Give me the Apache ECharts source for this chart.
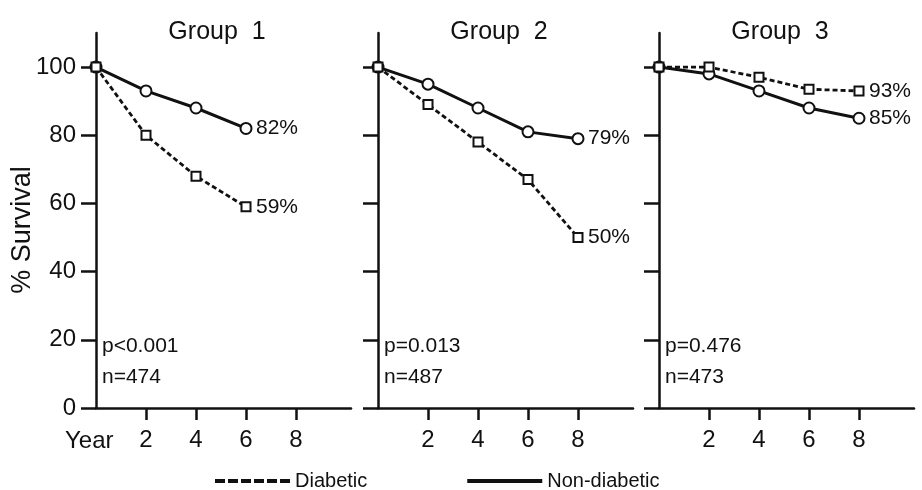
<!DOCTYPE html>
<html><head><meta charset="utf-8">
<script src="https://cdn.jsdelivr.net/npm/echarts@6/dist/echarts.min.js"></script>
<style>html,body{margin:0;padding:0;background:#fff}#c{width:922px;height:490px}</style>
</head><body><div id="c"></div>
<script>
// ---- data ----
const years = [0, 2, 4, 6, 8];
const groupTitles = ['Group  1', 'Group  2', 'Group  3'];
const diabetic1 = [100, 80, 68, 59];
const nonDiabetic1 = [100, 93, 88, 82];
const diabetic2 = [100, 89, 78, 67, 50];
const nonDiabetic2 = [100, 95, 88, 81, 79];
const diabetic3 = [100, 100, 97, 93.5, 93];
const nonDiabetic3 = [100, 98, 93, 88, 85];
const pValues = ['p<0.001', 'p=0.013', 'p=0.476'];
const nValues = ['n=474', 'n=487', 'n=473'];
const yTicks = [0, 20, 40, 60, 80, 100];
const xTicks = [2, 4, 6, 8];
const seriesNames = ['Diabetic', 'Non-diabetic'];

// ---- layout / style ----
const FONT = '"Liberation Sans", Arial, Helvetica, sans-serif';
const INK = '#111';
const gridLefts = [96, 378, 659];
const gridW = 255, gridTop = 33, gridH = 375;
const diab = [diabetic1, diabetic2, diabetic3];
const nonDiab = [nonDiabetic1, nonDiabetic2, nonDiabetic3];
const toPts = arr => arr.map((v, i) => [years[i], v]);

const grids = [], xAxes = [], yAxes = [], series = [], graphics = [];
for (let g = 0; g < 3; g++) {
  grids.push({ left: gridLefts[g], top: gridTop, width: gridW, height: gridH, containLabel: false });
  xAxes.push({
    type: 'value', gridIndex: g, min: 0, max: 10.2,
    axisLine: { show: true, lineStyle: { color: INK, width: 2.5 } },
    axisTick: { show: true, customValues: xTicks, length: 12, lineStyle: { color: INK, width: 2.5 } },
    axisLabel: { show: true, customValues: xTicks, fontSize: 24, margin: 20, color: INK, fontFamily: FONT },
    splitLine: { show: false }
  });
  yAxes.push({
    type: 'value', gridIndex: g, min: 0, max: 110,
    axisLine: { show: true, lineStyle: { color: INK, width: 2.5 } },
    axisTick: { show: true, customValues: yTicks, length: 15, lineStyle: { color: INK, width: 2.5 } },
    axisLabel: { show: g === 0, customValues: yTicks, fontSize: 24, margin: 20, color: INK, fontFamily: FONT },
    splitLine: { show: false }
  });
  const endLabel = {
    show: true, distance: 10, fontSize: 21, color: INK, fontFamily: FONT,
    formatter: p => Math.round(p.value[1]) + '%'
  };
  series.push({
    name: seriesNames[1], type: 'line', xAxisIndex: g, yAxisIndex: g,
    data: toPts(nonDiab[g]), symbol: 'emptyCircle', symbolSize: 11,
    lineStyle: { color: INK, width: 3 }, itemStyle: { color: INK, borderWidth: 2 },
    endLabel: endLabel, z: 2
  });
  series.push({
    name: seriesNames[0], type: 'line', xAxisIndex: g, yAxisIndex: g,
    data: toPts(diab[g]), symbol: 'emptyRect', symbolSize: 9,
    lineStyle: { color: INK, width: 2.8, type: [5, 3] }, itemStyle: { color: INK, borderWidth: 2.2 },
    endLabel: endLabel, z: 3
  });
  const cx = gridLefts[g] + 121;
  graphics.push({ type: 'text', x: cx, y: 32, style: { text: groupTitles[g], fill: INK, fontSize: 25, fontFamily: FONT, textAlign: 'center', textVerticalAlign: 'middle' } });
  graphics.push({ type: 'text', x: gridLefts[g] + 6, y: 346, style: { text: pValues[g], fill: INK, fontSize: 21, fontFamily: FONT, textAlign: 'left', textVerticalAlign: 'middle' } });
  graphics.push({ type: 'text', x: gridLefts[g] + 6, y: 377, style: { text: nValues[g], fill: INK, fontSize: 21, fontFamily: FONT, textAlign: 'left', textVerticalAlign: 'middle' } });
}
graphics.push({ type: 'text', x: 65, y: 441, style: { text: 'Year', fill: INK, fontSize: 24, fontFamily: FONT, textAlign: 'left', textVerticalAlign: 'middle' } });
graphics.push({ type: 'text', x: 23, y: 230, rotation: Math.PI / 2, style: { text: '% Survival', fill: INK, fontSize: 27, fontFamily: FONT, textAlign: 'center', textVerticalAlign: 'middle' } });

const dashIcon = 'path://M0,0h10v4h-10z M13,0h10v4h-10z M26,0h10v4h-10z M39,0h10v4h-10z M52,0h10v4h-10z M65,0h10v4h-10z';

const chart = echarts.init(document.getElementById('c'), null, { renderer: 'canvas' });
chart.setOption({
  animation: false,
  backgroundColor: '#fff',
  grid: grids, xAxis: xAxes, yAxis: yAxes, series: series,
  legend: {
    left: 215, top: 471, itemWidth: 75, itemHeight: 4, itemGap: 100, padding: 0,
    textStyle: { fontSize: 20, color: INK, fontFamily: FONT },
    itemStyle: { color: INK },
    data: [{ name: seriesNames[0], icon: dashIcon }, { name: seriesNames[1], icon: 'rect' }]
  },
  graphic: graphics
});
</script></body></html>
